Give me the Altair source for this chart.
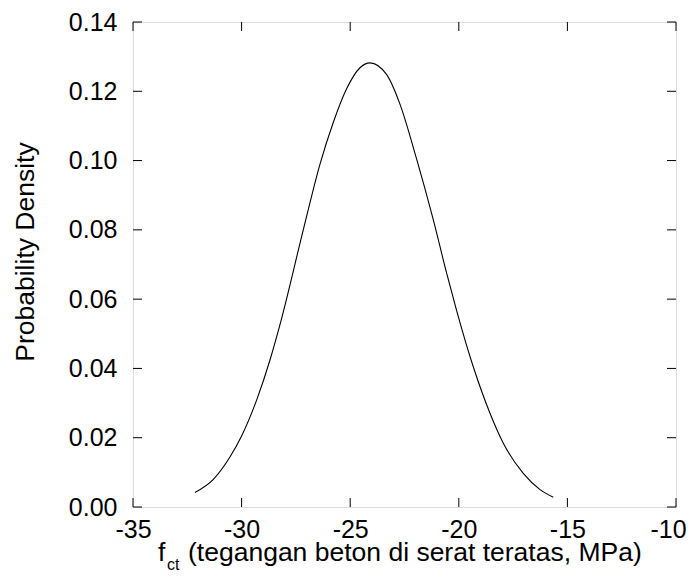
import altair as alt
import pandas as pd

# Curve points
x_vals = [-32.15, -31.30, -30.53, -30.00, -29.30, -28.69, -28.23,
          -27.16, -26.39, -25.78, -25.16, -24.55, -24.09, -23.32, -22.71, -21.94,
          -21.17, -20.56, -20.10, -19.33, -18.56, -17.95, -17.03, -16.26, -15.65]
y_vals = [0.0042, 0.0080, 0.0145, 0.0205, 0.0310, 0.0425, 0.0527,
          0.0800, 0.0990, 0.1110, 0.1208, 0.1268, 0.1282, 0.1248, 0.1163, 0.1004,
          0.0828, 0.0675, 0.0567, 0.0404, 0.0270, 0.0184, 0.0097, 0.0050, 0.0028]

x_ticks = [-35, -30, -25, -20, -15, -10]
y_ticks = [0.00, 0.02, 0.04, 0.06, 0.08, 0.10, 0.12, 0.14]

W, H = 543, 485
FONT = "Liberation Sans"

curve_df = pd.DataFrame({"x": x_vals, "y": y_vals})
xt_df = pd.DataFrame({"x": x_ticks})
yt_df = pd.DataFrame({"y": y_ticks})

xscale = alt.Scale(domain=[-35, -10], nice=False, zero=False)
yscale = alt.Scale(domain=[0, 0.14], nice=False, zero=False)

curve = alt.Chart(curve_df).mark_line(color="black", strokeWidth=1.1, interpolate="monotone").encode(
    x=alt.X("x:Q", scale=xscale,
            axis=alt.Axis(values=x_ticks, ticks=False, tickSize=0, domain=False, grid=False,
                          labelExpr="toString(datum.value)", labelFont=FONT, labelFontSize=25,
                          labelColor="black", labelPadding=10, title=None, labelFlush=False,
                          labelOffset=alt.expr("datum.value == -10 ? -8 : 0"))),
    y=alt.Y("y:Q", scale=yscale,
            axis=alt.Axis(values=y_ticks, ticks=False, tickSize=0, domain=False, grid=False,
                          format=".2f", labelFont=FONT, labelFontSize=25, labelColor="black",
                          labelPadding=16, title=None, labelFlush=False)),
)

tick_len = 9
bottom_ticks = alt.Chart(xt_df).mark_rule(color="black", strokeWidth=1).encode(
    x=alt.X("x:Q", scale=xscale), y=alt.value(H), y2=alt.value(H - tick_len))
top_ticks = alt.Chart(xt_df).mark_rule(color="black", strokeWidth=1).encode(
    x=alt.X("x:Q", scale=xscale), y=alt.value(0), y2=alt.value(tick_len))
left_ticks = alt.Chart(yt_df).mark_rule(color="black", strokeWidth=1).encode(
    y=alt.Y("y:Q", scale=yscale), x=alt.value(0), x2=alt.value(tick_len))
right_ticks = alt.Chart(yt_df).mark_rule(color="black", strokeWidth=1).encode(
    y=alt.Y("y:Q", scale=yscale), x=alt.value(W), x2=alt.value(W - tick_len))

y_title = alt.Chart(pd.DataFrame({"t": ["Probability Density"]})).mark_text(
    font=FONT, fontSize=26.5, angle=270, align="center", baseline="alphabetic", color="black"
).encode(text="t:N", x=alt.value(-99), y=alt.value(230))

x_title_main = alt.Chart(pd.DataFrame({"t": ["(tegangan beton di serat teratas, MPa)"]})).mark_text(
    font=FONT, fontSize=26.5, align="left", baseline="alphabetic", color="black"
).encode(text="t:N", x=alt.value(55), y=alt.value(539))
x_title_f = alt.Chart(pd.DataFrame({"t": ["f"]})).mark_text(
    font=FONT, fontSize=26.5, align="left", baseline="alphabetic", color="black"
).encode(text="t:N", x=alt.value(25), y=alt.value(539))
x_title_sub = alt.Chart(pd.DataFrame({"t": ["ct"]})).mark_text(
    font=FONT, fontSize=16, align="left", baseline="alphabetic", color="black"
).encode(text="t:N", x=alt.value(34), y=alt.value(548))

chart = alt.layer(
    curve, bottom_ticks, top_ticks, left_ticks, right_ticks,
    y_title, x_title_f, x_title_sub, x_title_main
).properties(
    width=W, height=H,
    autosize=alt.AutoSizeParams(type="none"),
    padding={"left": 125, "top": 14, "right": 13, "bottom": 68},
).configure_view(stroke="black", strokeWidth=1).configure(background="white")

chart.save("out.html", embed_options={"renderer": "svg", "actions": False})
